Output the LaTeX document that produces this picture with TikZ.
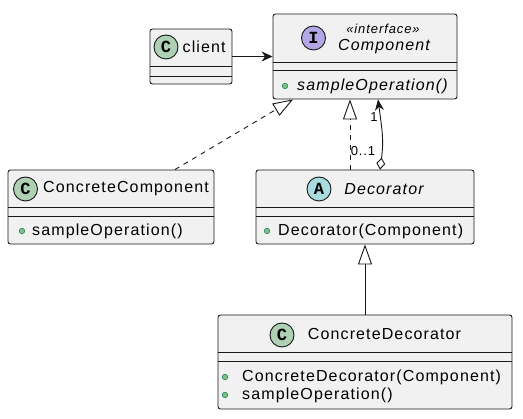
\documentclass[tikz,border=0pt]{standalone}
\usepackage{fontspec}
\usepackage{xcolor}
\newfontfamily\umlfont{Liberation Sans}[LetterSpace=7]
\newfontfamily\iconfont{Liberation Mono}
\usetikzlibrary{positioning, calc, arrows.meta}

\definecolor{boxfill}{HTML}{F1F1F1}
\definecolor{boxline}{HTML}{181818}
\definecolor{cicon}{HTML}{ADD1B2}
\definecolor{iicon}{HTML}{B4A7E5}
\definecolor{aicon}{HTML}{A9DCDF}
\definecolor{dotfill}{HTML}{84BE84}
\definecolor{dotline}{HTML}{038048}

\tikzset{
  classbox/.style={draw=boxline, fill=boxfill, rounded corners=2.5, line width=0.9, inner sep=0},
  icon/.style={circle, draw=boxline, line width=0.9, minimum size=24, inner sep=0,
    font=\iconfont\fontsize{17}{17}\selectfont\bfseries},
  pub/.style={circle, draw=dotline, fill=dotfill, minimum size=5.5, inner sep=0, line width=0.5},
  txt/.style={inner sep=0, anchor=west},
  ital/.style={inner sep=0, font=\umlfont\itshape\fontsize{16}{19}\selectfont},
  small/.style={inner sep=0, font=\umlfont\fontsize{13}{15}\selectfont},
  conn/.style={draw=boxline, line width=0.9},
  realize/.style={conn, dash pattern=on 5pt off 5pt, -{Triangle[open, length=20, width=14]}},
  inherit/.style={conn, -{Triangle[open, length=20, width=14]}},
  assoc/.style={conn, -{Stealth[length=11, width=10, inset=3.5]}},
  aggr/.style={conn, {Diamond[open, length=12, width=9]}-{Stealth[length=11, width=9, inset=3.5]}}
}
\newcommand\sepline[2]{\draw[boxline, line width=0.9] (#1.west |- 0,#2) -- (#1.east |- 0,#2);}

\begin{document}
\begin{tikzpicture}[x=1pt, y=-1pt, font=\umlfont\fontsize{16}{19}\selectfont]
  \useasboundingbox[fill=white] (0,0) rectangle (523,419);

  % BOXES
  \node[classbox, minimum width=82, minimum height=55] (client) at (191,56.5) {};
  \node[classbox, minimum width=184, minimum height=85] (comp) at (365,56.5) {};
  \node[classbox, minimum width=206, minimum height=74] (cc) at (111,207) {};
  \node[classbox, minimum width=218, minimum height=74] (deco) at (365,207) {};
  \node[classbox, minimum width=294, minimum height=94] (cd) at (365,362) {};
  \sepline{client}{66} \sepline{client}{76}
  \sepline{comp}{62} \sepline{comp}{70}
  \sepline{cc}{207} \sepline{cc}{216}
  \sepline{deco}{207} \sepline{deco}{216}
  \sepline{cd}{352} \sepline{cd}{361}

  % HEADERS
  \node[icon, fill=cicon] (clientC) at (166,47) {C};
  \node[txt, right=4pt of clientC] (clientN) {client};
  \node[icon, fill=iicon] (compI) at (313.5,38) {I};
  \node[small, font=\umlfont\itshape\fontsize{13}{15}\selectfont] (compS) at (383,29) {«interface»};
  \node[ital] (compN) at (384,47) {Component};
  \node[icon, fill=cicon] (ccC) at (25.5,189) {C};
  \node[txt] (ccN) at (43,189) {ConcreteComponent};
  \node[icon, fill=aicon] (decoA) at (319,189) {A};
  \node[ital] (decoN) at (384,189) {Decorator};
  \node[icon, fill=cicon] (cdC) at (282,335) {C};
  \node[inner sep=0] (cdN) at (384.5,334) {ConcreteDecorator};

  % METHODS
  \node[pub] (compD) at (285,86) {};
  \node[txt, ital, anchor=west] (compM) at (297,86) {sampleOperation()};
  \node[pub] (ccD) at (22,231) {};
  \node[txt] (ccM) at (32,231) {sampleOperation()};
  \node[pub] (decoD) at (267,231) {};
  \node[txt] (decoM) at (278,231) {Decorator(Component)};
  \node[pub] (cdD1) at (225,377) {};
  \node[txt] (cdM1) at (242,377) {ConcreteDecorator(Component)};
  \node[pub] (cdD2) at (225,395) {};
  \node[txt] (cdM2) at (242,395) {sampleOperation()};

  % LINKS
  \draw[assoc] (client) -- (comp);
  \draw[realize] ([xshift=64]cc.north) -- ([xshift=-72]comp.south);
  \draw[realize] ([xshift=-15]deco.north) -- ([xshift=-15]comp.south);
  \draw[aggr] ([xshift=15]deco.north) .. controls +(4,-30) and +(4,30) .. ([xshift=13]comp.south);
  \node[small] (one) at (374,117) {1};
  \node[small] (zeroone) at (363,151) {0..1};
  \draw[inherit] (cd) -- (deco);
\end{tikzpicture}
\end{document}
